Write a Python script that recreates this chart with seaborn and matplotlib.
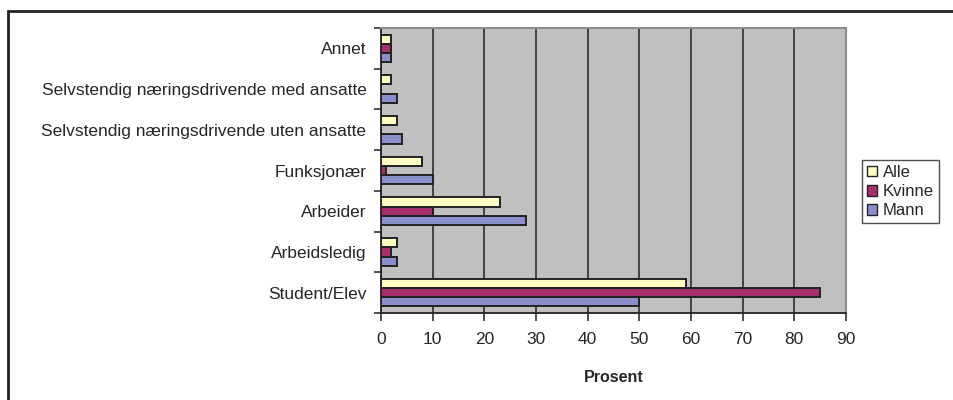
import pandas as pd
import seaborn as sns
from matplotlib import pyplot as plt
import matplotlib.patches as mpatches

categories = ['Annet',
              'Selvstendig næringsdrivende med ansatte',
              'Selvstendig næringsdrivende uten ansatte',
              'Funksjonær',
              'Arbeider',
              'Arbeidsledig',
              'Student/Elev']
groups = ['Alle', 'Kvinne', 'Mann']
alle = [2, 2, 3, 8, 23, 3, 59]
kvinne = [2, 0, 0, 1, 10, 2, 85]
mann = [2, 3, 4, 10, 28, 3, 50]
x_ticks = [0, 10, 20, 30, 40, 50, 60, 70, 80, 90]

colors = {'Alle': '#ffffc4', 'Kvinne': '#a8306a', 'Mann': '#8a8fcc'}

rows = []
for name, vals in zip(groups, [alle, kvinne, mann]):
    for c, v in zip(categories, vals):
        rows.append({'kategori': c, 'gruppe': name, 'prosent': v})
df = pd.DataFrame(rows)

sns.set_style('white')
plt.rcParams['font.family'] = ['Liberation Sans', 'DejaVu Sans']
fs = 12.5

fig = plt.figure(figsize=(9.54, 4.0), dpi=100)
W, H = 954, 400
ax = fig.add_axes([381 / W, 1 - 313 / H, 465 / W, 285 / H])
ax.set_facecolor('#c0c0c0')

sns.barplot(data=df, y='kategori', x='prosent', hue='gruppe',
            order=categories, hue_order=groups, palette=colors,
            orient='h', width=0.68, gap=0.0, edgecolor='#222222',
            linewidth=1.4, saturation=1, ax=ax, legend=False, zorder=3)

ax.set_xlim(0, 90)
ax.set_xticks(x_ticks)
ax.set_xticklabels([str(t) for t in x_ticks], fontsize=fs)
ax.xaxis.grid(True, color='#222222', linewidth=1.1, zorder=0)
ax.set_axisbelow(True)
ax.set_ylabel('')
ax.set_xlabel('Prosent', fontsize=fs - 1, fontweight='bold', labelpad=16)
ax.tick_params(axis='y', which='major', left=False, labelsize=fs, pad=7)
ax.tick_params(axis='x', bottom=True, direction='out', length=6, width=1.1,
               color='#222222', pad=8)

# ticks between categories
ax.set_yticks([i + 0.5 for i in range(-1, len(categories))], minor=True)
ax.tick_params(axis='y', which='minor', left=True, length=5, width=1.1,
               color='#222222', direction='out')

for s in ['left', 'bottom']:
    ax.spines[s].set_color('#222222')
    ax.spines[s].set_linewidth(1.3)
for s in ['top', 'right']:
    ax.spines[s].set_color('#8c8c8c')
    ax.spines[s].set_linewidth(1.5)

handles = [mpatches.Patch(facecolor=colors[g], edgecolor='#222222', label=g) for g in groups]
leg = fig.legend(handles=handles, loc='upper left', bbox_to_anchor=(862 / W, 1 - 160 / H),
                 frameon=True, fancybox=False, fontsize=fs - 0.5, handlelength=0.6,
                 handleheight=0.6, handletextpad=0.35, borderpad=0.3, labelspacing=0.25,
                 borderaxespad=0)
leg.get_frame().set_edgecolor('#222222')
leg.get_frame().set_linewidth(1.0)

# outer chart border (clipped at right and bottom)
fig.patches.append(mpatches.Rectangle((8 / W, -0.05), 1.0, 1 - 11 / H + 0.05,
                                      transform=fig.transFigure, fill=False,
                                      edgecolor='#222222', linewidth=2.0))

fig.savefig('out.png', dpi=100)
